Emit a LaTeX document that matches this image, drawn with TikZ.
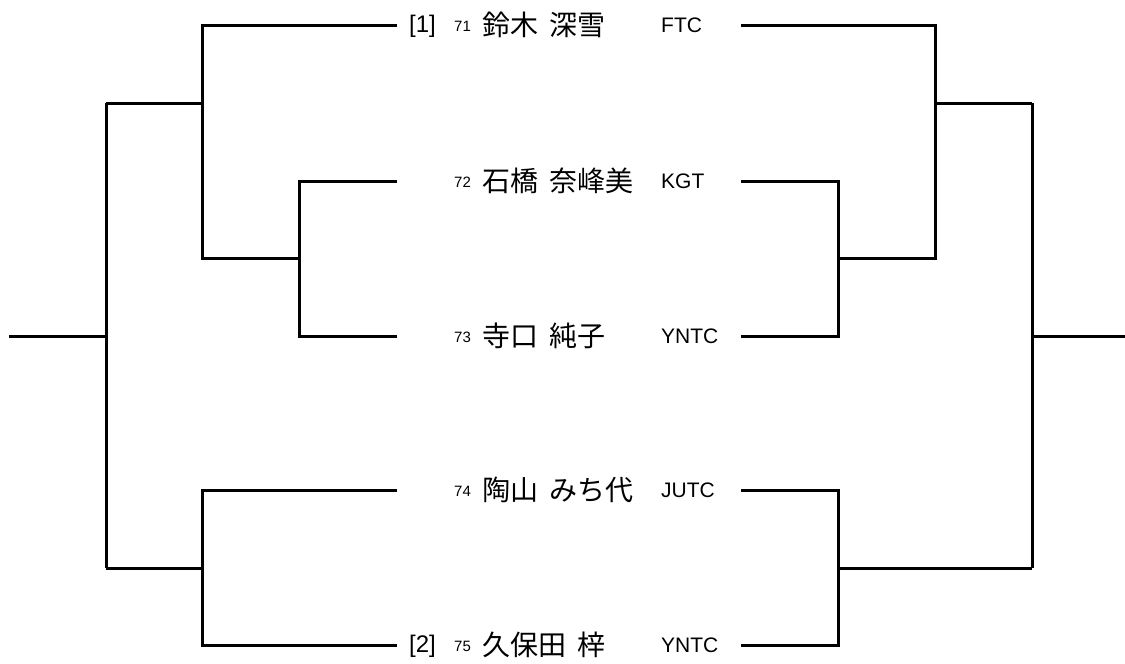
\documentclass[tikz,border=0pt]{standalone}
\usepackage{fontspec}
\setmainfont{Liberation Sans}
\newfontfamily\jp{Noto Sans CJK JP}
\usepackage{tikz}
\tikzset{
        entry/.style={anchor=base west,inner sep=0pt},
        seed/.style={entry,font=\fontsize{24}{24}\selectfont},
        num/.style={entry,font=\fontsize{15}{15}\selectfont},
        player/.style={entry,font=\jp\fontsize{28}{28}\selectfont},
        club/.style={entry,font=\fontsize{21}{21}\selectfont}
    }
\newcommand{\namegap}{\hspace{0.42em}}

\begin{document}
\begin{tikzpicture}[x=1pt,y=-1pt]
\useasboundingbox (0,0) rectangle (1125,664);

% entries
\draw (409,32) node(SEEDA)[seed]{[1]};
\draw (454,31) node(NUMA)[num]{71};
\draw (482,35) node(NAMEA)[player]{鈴木\namegap 深雪};
\draw (661,32) node(CLUBA)[club]{FTC};

\draw (454,187) node(NUMB)[num]{72};
\draw (482,191) node(NAMEB)[player]{石橋\namegap 奈峰美};
\draw (661,188) node(CLUBB)[club]{KGT};

\draw (454,342) node(NUMC)[num]{73};
\draw (482,346) node(NAMEC)[player]{寺口\namegap 純子};
\draw (661,343) node(CLUBC)[club]{YNTC};

\draw (454,496) node(NUMD)[num]{74};
\draw (482,500) node(NAMED)[player]{陶山\namegap みち代};
\draw (661,497) node(CLUBD)[club]{JUTC};

\draw (409,652) node(SEEDE)[seed]{[2]};
\draw (454,651) node(NUME)[num]{75};
\draw (482,655) node(NAMEE)[player]{久保田\namegap 梓};
\draw (661,652) node(CLUBE)[club]{YNTC};

% line ends
\coordinate (LA) at (397,25);
\coordinate (LB) at (397,181);
\coordinate (LC) at (397,336);
\coordinate (LD) at (397,490);
\coordinate (LE) at (397,645);
\coordinate (RA) at (741,25);
\coordinate (RB) at (741,181);
\coordinate (RC) at (741,336);
\coordinate (RD) at (741,490);
\coordinate (RE) at (741,645);

% junctions
\coordinate (LBC) at (299,258);
\coordinate (LABC) at (202,258);
\coordinate (LDE) at (202,568);
\coordinate (LTOP) at (106,103);
\coordinate (LBOT) at (106,568);
\coordinate (LOUT) at (9,336);
\coordinate (RBC) at (838,258);
\coordinate (RABC) at (935,258);
\coordinate (RDE) at (838,568);
\coordinate (RTOP) at (1032,103);
\coordinate (RBOT) at (1032,568);
\coordinate (ROUT) at (1125,336);

% left bracket
\draw[line width=3pt] (LB) -| (LBC) |- (LC);
\draw[line width=3pt] (LA) -| (LABC) -- (LBC);
\draw[line width=3pt] (LD) -| (LDE) |- (LE);
\draw[line width=3pt] (LTOP) -- (LTOP -| LABC);
\draw[line width=3pt] (LBOT) -- (LDE);
\draw[line width=3pt] (LTOP) -- (LBOT);
\draw[line width=3pt] (LOUT) -- (LOUT -| LTOP);

% right bracket
\draw[line width=3pt] (RB) -| (RBC) |- (RC);
\draw[line width=3pt] (RA) -| (RABC) -- (RBC);
\draw[line width=3pt] (RD) -| (RDE) |- (RE);
\draw[line width=3pt] (RTOP) -- (RTOP -| RABC);
\draw[line width=3pt] (RBOT) -- (RDE);
\draw[line width=3pt] (RTOP) -- (RBOT);
\draw[line width=3pt] (ROUT) -- (ROUT -| RTOP);

\end{tikzpicture}
\end{document}
